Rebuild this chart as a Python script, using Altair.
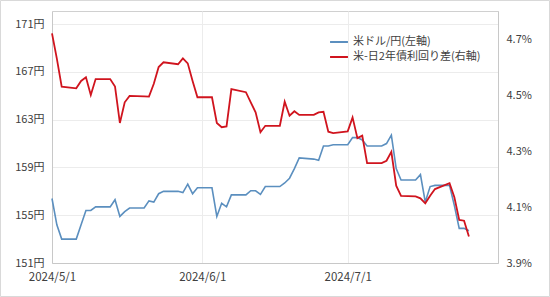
import altair as alt
import pandas as pd

dates = [
    "2024-05-01", "2024-05-02", "2024-05-03", "2024-05-06", "2024-05-07", "2024-05-08",
    "2024-05-09", "2024-05-10", "2024-05-13", "2024-05-14", "2024-05-15", "2024-05-16",
    "2024-05-17", "2024-05-20", "2024-05-21", "2024-05-22", "2024-05-23", "2024-05-24",
    "2024-05-27", "2024-05-28", "2024-05-29", "2024-05-30", "2024-05-31",
    "2024-06-03", "2024-06-04", "2024-06-05", "2024-06-06", "2024-06-07", "2024-06-10",
    "2024-06-11", "2024-06-12", "2024-06-13", "2024-06-14", "2024-06-17", "2024-06-18",
    "2024-06-19", "2024-06-20", "2024-06-21", "2024-06-24", "2024-06-25", "2024-06-26",
    "2024-06-27", "2024-06-28",
    "2024-07-01", "2024-07-02", "2024-07-03", "2024-07-04", "2024-07-05", "2024-07-08",
    "2024-07-09", "2024-07-10", "2024-07-11", "2024-07-12", "2024-07-15", "2024-07-16",
    "2024-07-17", "2024-07-18", "2024-07-19", "2024-07-22", "2024-07-23", "2024-07-24",
    "2024-07-25", "2024-07-26",
]

usdjpy = [
    156.4, 154.2, 153.0, 153.0, 154.2, 155.4,
    155.4, 155.7, 155.7, 156.3, 154.9, 155.3,
    155.6, 155.6, 156.2, 156.1, 156.8, 157.0,
    157.0, 156.9, 157.6, 156.8, 157.3,
    157.3, 154.9, 156.0, 155.7, 156.7, 156.7,
    157.05, 157.05, 156.75, 157.4, 157.4, 157.7,
    158.1, 158.9, 159.8, 159.7, 159.6, 160.8,
    160.8, 160.9,
    160.9, 161.5, 161.5, 161.3, 160.8, 160.8,
    161.0, 161.7, 158.9, 157.95, 157.95, 158.4,
    156.1, 157.4, 157.5, 157.5, 155.8, 153.9,
    153.9, 153.7,
]

spread = [
    4.72, 4.63, 4.53, 4.524, 4.55, 4.563,
    4.50, 4.557, 4.557, 4.53, 4.40, 4.474,
    4.497, 4.495, 4.494, 4.54, 4.60, 4.617,
    4.61, 4.631, 4.613, 4.55, 4.492,
    4.492, 4.40, 4.385, 4.388, 4.521, 4.51,
    4.474, 4.438, 4.367, 4.39, 4.39, 4.476,
    4.426, 4.442, 4.429, 4.429, 4.438, 4.44,
    4.369, 4.364,
    4.37, 4.42, 4.346, 4.355, 4.257, 4.257,
    4.265, 4.297, 4.176, 4.14, 4.138, 4.131,
    4.113, 4.14, 4.164, 4.185, 4.135, 4.054,
    4.051, 3.995,
]

series_names = ["米ドル/円(左軸)", "米-日2年債利回り差(右軸)"]
series_colors = ["#5b8fbf", "#d0141e"]

yen_ticks = [151, 155, 159, 163, 167, 171]
pct_ticks = [3.9, 4.1, 4.3, 4.5, 4.7]
tick_months = [5, 6, 7]

W, H = 446, 252
FONT = "Noto Sans CJK JP"

df_yen = pd.DataFrame({"date": dates, "value": usdjpy, "series": series_names[0]})
df_pct = pd.DataFrame({"date": dates, "value": spread, "series": series_names[1]})

x_enc = alt.X(
    "date:T",
    scale=alt.Scale(type="utc", domain=["2024-05-01", "2024-08-01"]),
    axis=alt.Axis(
        title=None,
        values=[alt.DateTime(year=2024, month=m, date=1, utc=True) for m in tick_months],
        labelExpr="utcFormat(datum.value, '%Y/%-m/%-d')",
        labelFlush=False,
        grid=True,
        gridColor="#ececec",
        ticks=False,
        domainColor="#c8c8c8",
        labelPadding=8,
        labelFontSize=11.5,
        labelColor="#404040",
        labelFont=FONT,
    ),
)

color_enc = alt.Color(
    "series:N",
    scale=alt.Scale(domain=series_names, range=series_colors),
    legend=alt.Legend(
        title=None,
        orient="none",
        legendX=277,
        legendY=21,
        symbolType="stroke",
        symbolStrokeWidth=2,
        symbolSize=320,
        labelFontSize=11,
        labelFont=FONT,
        labelColor="#404040",
        rowPadding=-1,
        labelOffset=4,
    ),
)

yen_line = alt.Chart(df_yen).mark_line(strokeWidth=1.6).encode(
    x=x_enc,
    y=alt.Y(
        "value:Q",
        scale=alt.Scale(domain=[151, 172.1], nice=False, zero=False),
        axis=alt.Axis(
            title=None,
            values=yen_ticks,
            labelExpr="datum.value + '円'",
            grid=True,
            gridColor="#ececec",
            ticks=False,
            domainColor="#c8c8c8",
            labelPadding=8,
            labelFontSize=11,
            labelColor="#404040",
            labelFont=FONT,
        ),
    ),
    color=color_enc,
)

pct_line = alt.Chart(df_pct).mark_line(strokeWidth=1.8).encode(
    x=x_enc,
    y=alt.Y(
        "value:Q",
        scale=alt.Scale(domain=[3.9, 4.8], nice=False, zero=False),
        axis=alt.Axis(
            title=None,
            orient="right",
            values=pct_ticks,
            labelExpr="format(datum.value, '.1f') + '%'",
            grid=False,
            ticks=False,
            domainColor="#c8c8c8",
            labelPadding=8,
            labelFontSize=11,
            labelColor="#404040",
            labelFont=FONT,
        ),
    ),
    color=color_enc,
)

frame = alt.Chart(pd.DataFrame({"k": [0]})).mark_rect(
    fill=None, stroke="#d9d9d9", strokeWidth=1
).encode(
    x=alt.value(-51.5), x2=alt.value(W + 51.5),
    y=alt.value(-10.5), y2=alt.value(H + 33.5),
)

chart = (
    alt.layer(yen_line, pct_line, frame)
    .resolve_scale(y="independent")
    .properties(
        width=W,
        height=H,
        autosize=alt.AutoSizeParams(type="none"),
        padding={"left": 52, "top": 11, "right": 52, "bottom": 34},
        background="white",
    )
    .configure_view(stroke="#d0d0d0", strokeWidth=1)
)

chart.save("out.html", embed_options={"renderer": "svg", "actions": False})
